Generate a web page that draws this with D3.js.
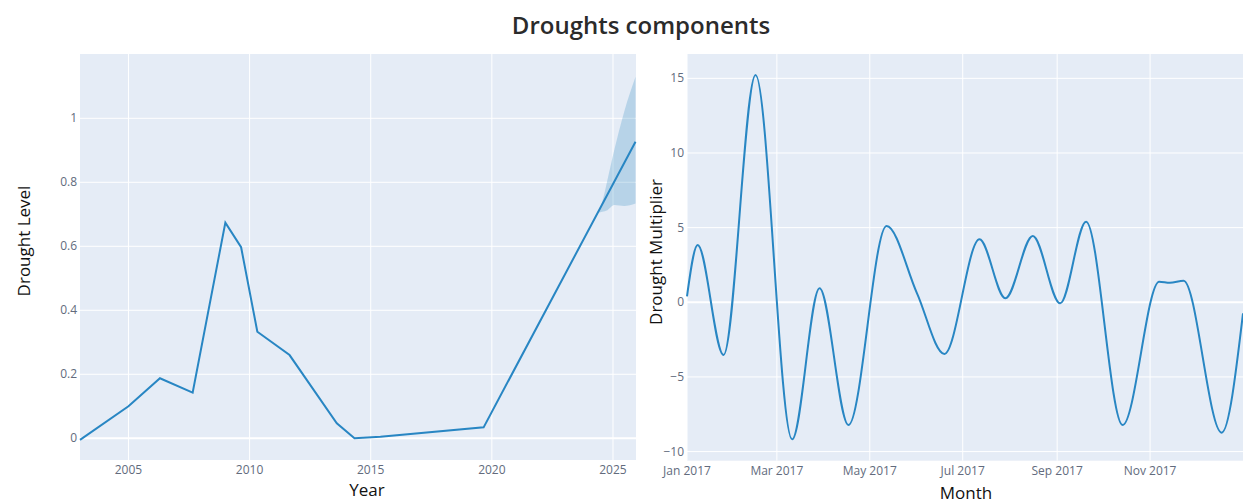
<!DOCTYPE html>
<html>
<head>
<meta charset="utf-8">
<script src="https://cdn.jsdelivr.net/npm/d3@7"></script>
<style>
  body { margin: 0; background: #fff; }
  svg { display: block; }
  .tick-label { font-family: 'Open Sans', sans-serif; font-size: 12px; fill: #626b7d; }
  .axis-title { font-family: 'Open Sans', sans-serif; font-size: 17px; fill: #111; }
</style>
</head>
<body>
<div id="chart"></div>
<script>
// Trend component (left panel)
const trendYears = [2003.0, 2005.0, 2006.3, 2007.65, 2009.0, 2009.65, 2010.32, 2011.65, 2013.6, 2014.33, 2015.4, 2019.66, 2025.93]
const trendValues = [-0.005, 0.1, 0.1875, 0.1425, 0.674, 0.597, 0.333, 0.26, 0.047, 0.0, 0.005, 0.034, 0.927]

// Uncertainty band of the forecast
const bandYears = [2024.4, 2024.56, 2024.77, 2025.05, 2025.46, 2025.93]
const bandUpper = [0.71, 0.74, 0.807, 0.9, 1.02, 1.13]
const bandLower = [0.705, 0.708, 0.713, 0.729, 0.726, 0.734]

const yearTicks = [2005, 2010, 2015, 2020, 2025]
const levelTicks = [0, 0.2, 0.4, 0.6, 0.8, 1]

// Yearly seasonality (right panel)
const seasonDates = ['2017-01-01', '2017-01-08', '2017-01-25', '2017-02-15', '2017-03-11', '2017-03-29',
  '2017-04-17', '2017-05-12', '2017-06-01', '2017-06-19', '2017-07-12', '2017-07-29', '2017-08-16',
  '2017-09-03', '2017-09-20', '2017-10-14', '2017-11-07', '2017-11-14', '2017-11-23', '2017-12-18', '2018-01-01']
const seasonValues = [0.4, 3.84, -3.53, 15.22, -9.18, 0.94, -8.22, 5.11, 0.6, -3.46, 4.22, 0.27, 4.44,
  -0.07, 5.4, -8.22, 1.38, 1.31, 1.45, -8.73, -0.74]

const monthTicks = ['2017-01-01', '2017-03-01', '2017-05-01', '2017-07-01', '2017-09-01', '2017-11-01']
const multiplierTicks = [-10, -5, 0, 5, 10, 15]

const W = 1243, H = 504
const lineColor = '#2886c3'
const parseDate = d3.utcParse('%Y-%m-%d')

const svg = d3.select('#chart').append('svg').attr('width', W).attr('height', H)

svg.append('text')
  .attr('x', 641).attr('y', 34)
  .attr('text-anchor', 'middle')
  .style('font-family', "'Open Sans', sans-serif")
  .style('font-size', '24px').style('font-weight', '600').style('fill', '#2b2b2b')
  .text('Droughts components')

// draws background, grid and tick labels for one panel
function drawFrame(x, y, xTicks, yTicks, xFmt, yFmt) {
  const [x0, x1] = x.range()
  const [y0, y1] = y.range()
  const g = svg.append('g')
  g.append('rect').attr('x', x0).attr('y', y1).attr('width', x1 - x0).attr('height', y0 - y1).attr('fill', '#e5ecf6')

  g.selectAll('.vgrid').data(xTicks).enter().append('line')
    .attr('x1', (d) => x(d)).attr('x2', (d) => x(d))
    .attr('y1', y1).attr('y2', y0)
    .attr('stroke', '#fff').attr('stroke-width', 1)

  g.selectAll('.hgrid').data(yTicks).enter().append('line')
    .attr('x1', x0).attr('x2', x1)
    .attr('y1', (d) => y(d)).attr('y2', (d) => y(d))
    .attr('stroke', '#fff').attr('stroke-width', (d) => (d === 0 ? 2 : 1))

  g.selectAll('.xlab').data(xTicks).enter().append('text')
    .attr('class', 'tick-label')
    .attr('x', (d) => x(d)).attr('y', y0 + 14)
    .attr('text-anchor', 'middle')
    .text(xFmt)

  g.selectAll('.ylab').data(yTicks).enter().append('text')
    .attr('class', 'tick-label')
    .attr('x', x0 - 3).attr('y', (d) => y(d) + 4)
    .attr('text-anchor', 'end')
    .text(yFmt)
  return g
}

// ---- left panel: trend
const xL = d3.scaleLinear().domain([2003.0, 2025.95]).range([80, 636])
const yL = d3.scaleLinear().domain([-0.068, 1.201]).range([460, 54])
const gL = drawFrame(xL, yL, yearTicks, levelTicks, (d) => d, (d) => d3.format('~g')(d))

const band = bandYears.map((d, i) => ({ x: d, lo: bandLower[i], hi: bandUpper[i] }))
gL.append('path')
  .datum(band)
  .attr('fill', 'rgba(0, 114, 178, 0.2)')
  .attr('d', d3.area().x((d) => xL(d.x)).y0((d) => yL(d.lo)).y1((d) => yL(d.hi)).curve(d3.curveMonotoneX))

const trend = trendYears.map((d, i) => ({ x: d, v: trendValues[i] }))
gL.append('path')
  .datum(trend)
  .attr('fill', 'none')
  .attr('stroke', lineColor)
  .attr('stroke-width', 2)
  .attr('d', d3.line().x((d) => xL(d.x)).y((d) => yL(d.v)))

svg.append('text').attr('class', 'axis-title')
  .attr('x', 367).attr('y', 496).attr('text-anchor', 'middle').text('Year')
svg.append('text').attr('class', 'axis-title')
  .attr('transform', 'translate(30,241) rotate(-90)').attr('text-anchor', 'middle').text('Drought Level')

// ---- right panel: yearly seasonality
const xR = d3.scaleUtc().domain([parseDate('2017-01-01'), parseDate('2018-01-01')]).range([687, 1243])
const yR = d3.scaleLinear().domain([-10.61, 16.63]).range([460.7, 54])
const gR = drawFrame(xR, yR, monthTicks.map(parseDate), multiplierTicks,
  d3.utcFormat('%b %Y'), (d) => (d < 0 ? '\u2212' + Math.abs(d) : d))

const season = seasonDates.map((d, i) => ({ x: parseDate(d), v: seasonValues[i] }))
gR.append('path')
  .datum(season)
  .attr('fill', 'none')
  .attr('stroke', lineColor)
  .attr('stroke-width', 2)
  .attr('d', d3.line().x((d) => xR(d.x)).y((d) => yR(d.v)).curve(d3.curveMonotoneX))

svg.append('text').attr('class', 'axis-title')
  .attr('x', 966).attr('y', 499).attr('text-anchor', 'middle').text('Month')
svg.append('text').attr('class', 'axis-title')
  .attr('transform', 'translate(662,252) rotate(-90)').attr('text-anchor', 'middle').text('Drought Multiplier')
</script>
</body>
</html>
